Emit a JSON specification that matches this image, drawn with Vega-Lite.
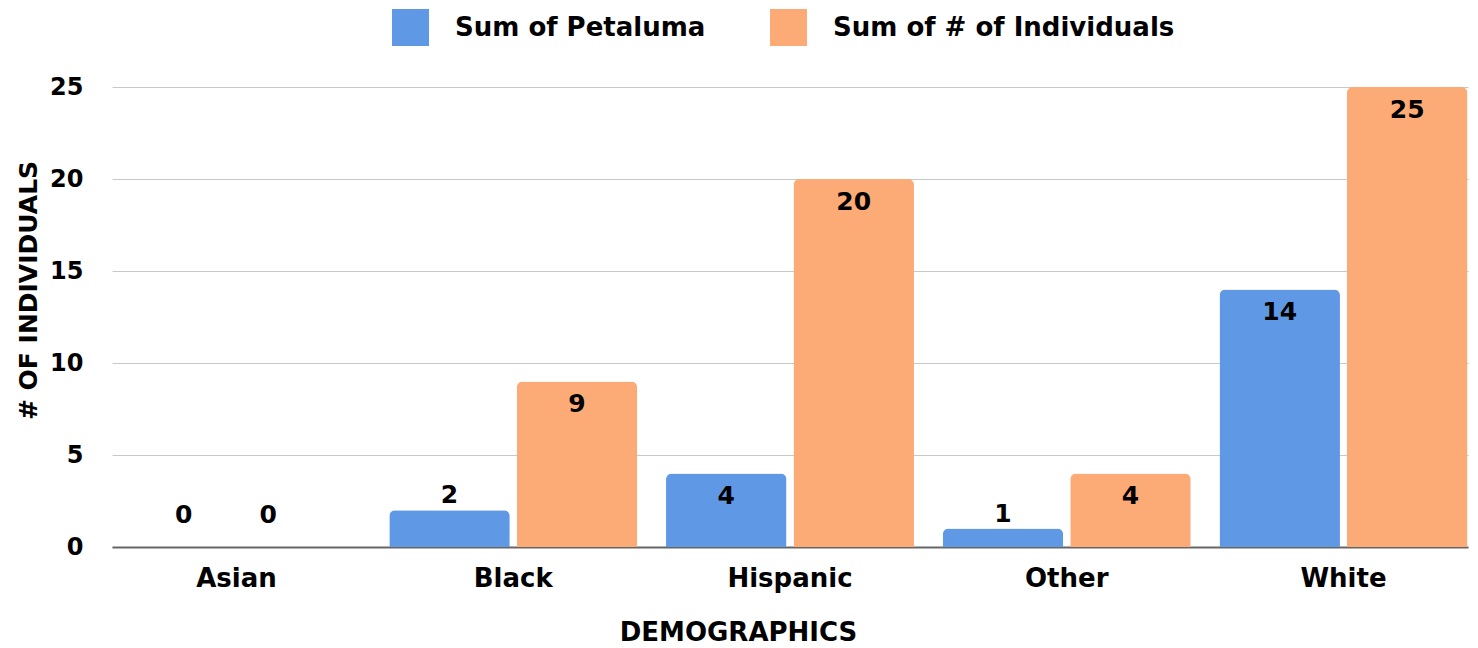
{
  "$schema": "https://vega.github.io/schema/vega-lite/v6.json",
  "width": 1356,
  "height": 460,
  "autosize": "none",
  "padding": {"left": 112, "top": 87, "right": 10, "bottom": 101},
  "background": "white",
  "config": {
    "view": {"stroke": null},
    "font": "DejaVu Sans",
    "axis": {"labelFont": "DejaVu Sans", "titleFont": "DejaVu Sans", "labelColor": "#000", "titleColor": "#000"},
    "legend": {"labelFont": "DejaVu Sans", "labelColor": "#000"}
  },
  "data": {
    "values": [
      {"race": "Asian", "series": "Sum of Petaluma", "value": 0},
      {"race": "Asian", "series": "Sum of # of Individuals", "value": 0},
      {"race": "Black", "series": "Sum of Petaluma", "value": 2},
      {"race": "Black", "series": "Sum of # of Individuals", "value": 9},
      {"race": "Hispanic", "series": "Sum of Petaluma", "value": 4},
      {"race": "Hispanic", "series": "Sum of # of Individuals", "value": 20},
      {"race": "Other", "series": "Sum of Petaluma", "value": 1},
      {"race": "Other", "series": "Sum of # of Individuals", "value": 4},
      {"race": "White", "series": "Sum of Petaluma", "value": 14},
      {"race": "White", "series": "Sum of # of Individuals", "value": 25}
    ]
  },
  "encoding": {
    "x": {
      "field": "race",
      "type": "nominal",
      "sort": ["Asian", "Black", "Hispanic", "Other", "White"],
      "scale": {"paddingInner": 0.104, "paddingOuter": 0.002},
      "axis": {
        "title": "DEMOGRAPHICS",
        "titleFontSize": 26,
        "titleFontWeight": "bold",
        "titleX": 626,
        "titleY": 98,
        "titleAlign": "center",
        "titleBaseline": "bottom",
        "labelAngle": 0,
        "labelFontSize": 26,
        "labelFontWeight": "bold",
        "labelPadding": 18,
        "ticks": false,
        "domain": true,
        "domainColor": "#666666",
        "domainWidth": 2
      }
    },
    "xOffset": {
      "field": "series",
      "type": "nominal",
      "sort": ["Sum of Petaluma", "Sum of # of Individuals"],
      "scale": {"paddingInner": 0.055, "paddingOuter": 0}
    },
    "y": {
      "field": "value",
      "type": "quantitative",
      "scale": {"domain": [0, 25]},
      "axis": {
        "title": "# OF INDIVIDUALS",
        "titleFontSize": 25,
        "titleFontWeight": "bold",
        "titleX": -84,
        "titleY": 203,
        "titleAngle": -90,
        "titleAlign": "center",
        "titleBaseline": "middle",
        "values": [0, 5, 10, 15, 20, 25],
        "labelFontSize": 24,
        "labelFontWeight": "bold",
        "labelPadding": 29,
        "ticks": false,
        "domain": false,
        "grid": true,
        "gridColor": "#c8c8c8",
        "gridWidth": 1.2
      }
    }
  },
  "layer": [
    {
      "mark": {"type": "bar", "cornerRadiusTopLeft": 6, "cornerRadiusTopRight": 6},
      "encoding": {
        "color": {
          "field": "series",
          "type": "nominal",
          "sort": ["Sum of Petaluma", "Sum of # of Individuals"],
          "scale": {"domain": ["Sum of Petaluma", "Sum of # of Individuals"], "range": ["#5f98e5", "#fdab76"]},
          "legend": {
            "title": null,
            "orient": "none",
            "direction": "horizontal",
            "legendX": 280,
            "legendY": -78,
            "symbolType": "square",
            "symbolSize": 1369,
            "symbolStrokeWidth": 0,
            "labelFontSize": 26,
            "labelFontWeight": "bold",
            "labelOffset": 26,
            "labelLimit": 500,
            "columnPadding": 64
          }
        }
      }
    },
    {
      "transform": [{"filter": "datum.value >= 3"}],
      "mark": {"type": "text", "baseline": "top", "dy": 11, "fontSize": 25, "fontWeight": "bold", "color": "#000"},
      "encoding": {"text": {"field": "value", "type": "quantitative"}}
    },
    {
      "transform": [{"filter": "datum.value > 0 && datum.value < 3"}],
      "mark": {"type": "text", "baseline": "alphabetic", "dy": -7, "fontSize": 25, "fontWeight": "bold", "color": "#000"},
      "encoding": {"text": {"field": "value", "type": "quantitative"}}
    },
    {
      "transform": [{"filter": "datum.value == 0 && datum.series == 'Sum of Petaluma'"}],
      "mark": {"type": "text", "baseline": "alphabetic", "dy": -24, "dx": 11, "fontSize": 25, "fontWeight": "bold", "color": "#000"},
      "encoding": {"text": {"field": "value", "type": "quantitative"}}
    },
    {
      "transform": [{"filter": "datum.value == 0 && datum.series == 'Sum of # of Individuals'"}],
      "mark": {"type": "text", "baseline": "alphabetic", "dy": -24, "dx": -32, "fontSize": 25, "fontWeight": "bold", "color": "#000"},
      "encoding": {"text": {"field": "value", "type": "quantitative"}}
    }
  ]
}
